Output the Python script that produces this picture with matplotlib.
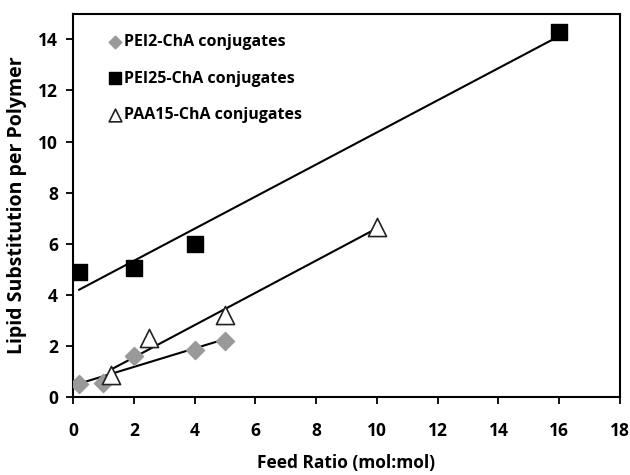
import numpy as np
import matplotlib.pyplot as plt

plt.rcParams['font.family'] = ['Open Sans', 'DejaVu Sans']

# data
pei2_x = [0.2, 1.0, 2.0, 4.0, 5.0]
pei2_y = [0.5, 0.55, 1.6, 1.85, 2.2]
pei25_x = [0.2, 2.0, 4.0, 16.0]
pei25_y = [4.9, 5.05, 6.0, 14.3]
paa15_x = [1.25, 2.5, 5.0, 10.0]
paa15_y = [0.85, 2.3, 3.2, 6.65]

fig = plt.figure(figsize=(6.3, 4.75), dpi=100)
ax = fig.add_axes([0.116, 0.164, 0.868, 0.807])

def trend(x, y):
    p = np.polyfit(x, y, 1)
    xs = np.array([min(x), max(x)])
    ax.plot(xs, np.polyval(p, xs), color='black', lw=1.5, zorder=2)

trend(pei2_x, pei2_y)
trend(pei25_x, pei25_y)
trend(paa15_x, paa15_y)

ax.scatter(pei2_x, pei2_y, marker='D', s=85, color='#999999', zorder=3,
           label='PEI2-ChA conjugates')
ax.scatter(pei25_x, pei25_y, marker='s', s=140, color='black', zorder=3,
           label='PEI25-ChA conjugates')
ax.scatter(paa15_x, paa15_y, marker='^', s=170, facecolor='white',
           edgecolor='#222222', linewidths=1.2, zorder=3,
           label='PAA15-ChA conjugates')

ax.set_xlim(0, 18)
ax.set_ylim(0, 15)
ax.set_xticks(np.arange(0, 19, 2))
ax.set_yticks(np.arange(0, 15, 2))
ax.tick_params(direction='out', length=5, width=1.3, labelsize=12.5)
ax.tick_params(axis='x', pad=13)
ax.tick_params(axis='y', pad=6)
for lab in ax.get_xticklabels() + ax.get_yticklabels():
    lab.set_fontweight('bold')
for s in ax.spines.values():
    s.set_linewidth(1.5)

ax.set_xlabel('Feed Ratio (mol:mol)', fontsize=12.5, fontweight='bold', labelpad=10)
ax.set_ylabel('Lipid Substitution per Polymer', fontsize=14, fontweight='bold',
              labelpad=8)

ax.legend(loc='upper left', bbox_to_anchor=(0.035, 0.985), frameon=False,
          handletextpad=0.1, prop={'weight': 'bold', 'size': 11.5},
          labelspacing=1.3, handlelength=1.0, markerscale=0.7)

fig.savefig('out.png', dpi=100)
